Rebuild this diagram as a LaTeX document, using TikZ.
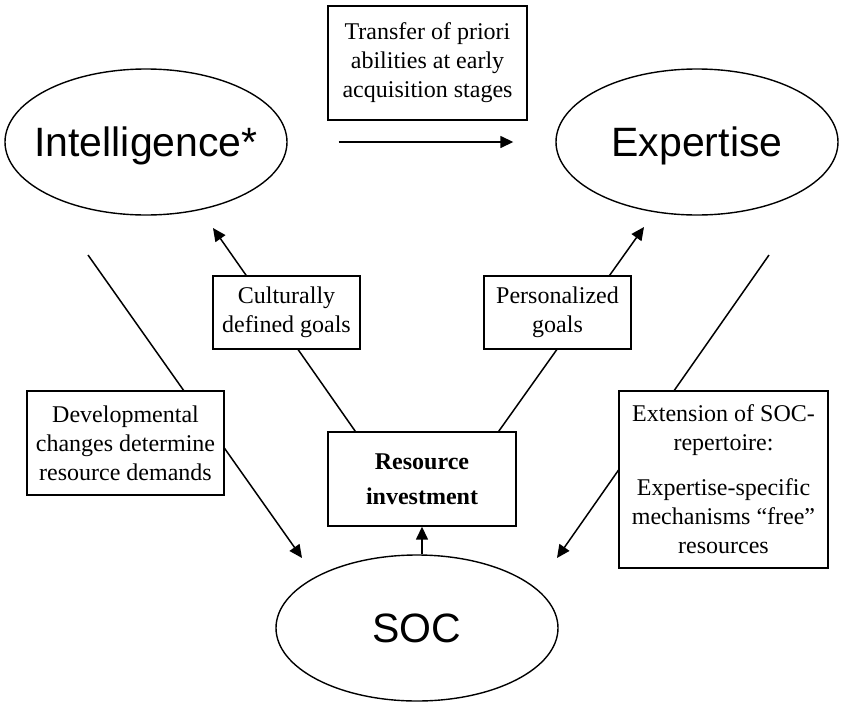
\documentclass[tikz,border=0pt]{standalone}
\usepackage{fontspec}
\setmainfont{Liberation Serif}
\setsansfont{Liberation Sans}
\usepackage{tikz}
\usetikzlibrary{shapes,arrows.meta,positioning,calc,backgrounds}

\begin{document}
\begin{tikzpicture}[
            x=1pt, y=-1pt,
            block/.style={rectangle, draw, fill=white, line width=1.4pt, align=center, inner sep=2pt, font=\fontsize{24}{29}\selectfont},
            concept/.style={ellipse, draw, line width=1.4pt, minimum width=282pt, minimum height=146pt, inner xsep=-16pt, inner ysep=0pt, text depth=0pt, font=\sffamily\fontsize{41}{48}\selectfont},
            arrow/.style={-{Triangle[length=13pt, width=12pt]}, line width=1.5pt},
            line/.style={line width=1.5pt}
        ]
            \useasboundingbox (0,0) rectangle (841,702);

            % Nodes
            \node[concept] (intel) at (146,142) {Intelligence*};
            \node[concept] (expert) at (697,142) {Expertise};
            \node[concept] (soc) at (417,628) {SOC};

            \node[block, minimum width=199pt, minimum height=114pt] (transfer) at (427.5,63) {Transfer of priori\\abilities at early\\acquisition stages};
            \node[block, minimum width=147pt, minimum height=73pt] (cultural) at (286.5,312.5) {Culturally\\defined goals};
            \node[block, minimum width=147pt, minimum height=73pt] (personal) at (557.5,312.5) {Personalized\\goals};
            \node[block, minimum width=188pt, minimum height=94pt, font=\fontsize{24}{35}\selectfont\bfseries] (invest) at (422,479) {Resource\\investment};
            \node[block, minimum width=197pt, minimum height=104pt] (develop) at (125.5,443) {Developmental\\changes determine\\resource demands};
            \node[block, minimum width=209pt, minimum height=177pt] (extend) at (723.5,479.5) {Extension of SOC-\\repertoire:\\[16pt]Expertise-specific\\mechanisms “free”\\resources};

            % Free ends
            \coordinate (intelLow) at (88,255);
            \coordinate (expertLow) at (769,255);
            \coordinate (socLeft) at (302,558);
            \coordinate (socRight) at (557,558);
            \coordinate (intelTip) at (213,228);
            \coordinate (expertTip) at (644,227);

            % Arrows
            \begin{pgfonlayer}{background}
            \draw[arrow, shorten <=51pt, shorten >=42pt] (intel.east) -- (expert.west);
            \draw[arrow] ($(invest.north west)+(28,0)$) -- (intelTip);
            \draw[arrow] ($(invest.north east)+(-18,0)$) -- (expertTip);
            \draw[arrow] (intelLow) -- (socLeft);
            \draw[arrow] (expertLow) -- (socRight);
            \draw[arrow] (invest.south |- soc.north) -- (invest.south);
            \end{pgfonlayer}
        \end{tikzpicture}
\end{document}
